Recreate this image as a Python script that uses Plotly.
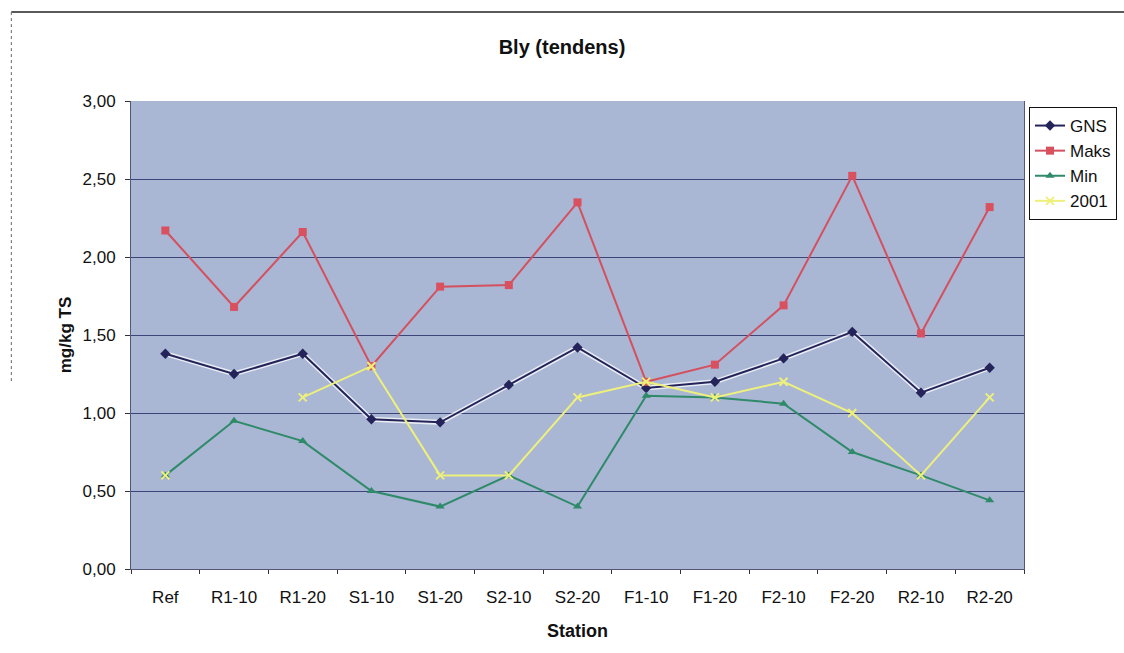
import plotly.graph_objects as go

stations = ["Ref", "R1-10", "R1-20", "S1-10", "S1-20", "S2-10", "S2-20",
            "F1-10", "F1-20", "F2-10", "F2-20", "R2-10", "R2-20"]
gns = [1.38, 1.25, 1.38, 0.96, 0.94, 1.18, 1.42, 1.16, 1.20, 1.35, 1.52, 1.13, 1.29]
maks = [2.17, 1.68, 2.16, 1.30, 1.81, 1.82, 2.35, 1.20, 1.31, 1.69, 2.52, 1.51, 2.32]
mini = [0.60, 0.95, 0.82, 0.50, 0.40, 0.60, 0.40, 1.11, 1.10, 1.06, 0.75, 0.60, 0.44]
y2001 = [0.60, None, 1.10, 1.30, 0.60, 0.60, 1.10, 1.20, 1.10, 1.20, 1.00, 0.60, 1.10]

font = "Liberation Sans, Arial, sans-serif"

fig = go.Figure()
# white halo under GNS line (as in the scanned original)
fig.add_trace(go.Scatter(x=stations, y=gns, mode="lines", showlegend=False,
                         hoverinfo="skip",
                         line=dict(color="rgba(255,255,255,0.75)", width=5)))
fig.add_trace(go.Scatter(x=stations, y=gns, name="GNS", mode="lines+markers",
                         line=dict(color="#24245a", width=2),
                         marker=dict(symbol="diamond", size=8, color="#24245a")))
fig.add_trace(go.Scatter(x=stations, y=maks, name="Maks", mode="lines+markers",
                         line=dict(color="#d4505e", width=2),
                         marker=dict(symbol="square", size=8, color="#d9505e")))
fig.add_trace(go.Scatter(x=stations, y=mini, name="Min", mode="lines+markers",
                         line=dict(color="#2e8a68", width=2),
                         marker=dict(symbol="triangle-up", size=8, color="#2e8a68")))
fig.add_trace(go.Scatter(x=stations, y=y2001, name="2001", mode="lines+markers",
                         connectgaps=False,
                         line=dict(color="#eef07c", width=2),
                         marker=dict(symbol="x-thin", size=8, color="#eef07c",
                                     line=dict(color="#eef07c", width=2))))

fig.update_layout(
    width=1124, height=653,
    margin=dict(l=131, r=100, t=101, b=84, autoexpand=False),
    paper_bgcolor="white",
    plot_bgcolor="#a9b6d4",
    font=dict(family=font, size=18, color="#111111"),
    title=dict(text="<b>Bly (tendens)</b>", x=0.5, xanchor="center",
               y=0.928, yanchor="middle", font=dict(size=20, family=font)),
    legend=dict(xref="container", yref="container", x=1029 / 1124, xanchor="left",
                y=1 - 107 / 653, yanchor="top",
                bordercolor="#111111", borderwidth=1, bgcolor="white",
                font=dict(size=17, family=font), itemwidth=30,
                tracegroupgap=0),
    showlegend=True,
    separators=", ",
)
fig.update_xaxes(
    type="category", range=[-0.5, 12.5], tickson="boundaries",
    ticks="outside", ticklen=4, tickcolor="#333333",
    ticklabelstandoff=13,
    showgrid=False, showline=True, linecolor="#555577", linewidth=1,
    title=dict(text="<b>Station</b>", font=dict(size=18), standoff=17),
    tickfont=dict(size=17),
)
fig.update_yaxes(
    range=[0, 3], dtick=0.5, tickformat=".2f",
    ticks="outside", ticklen=5, tickcolor="#333333",
    ticklabelstandoff=6,
    showgrid=True, gridcolor="#3d4479", gridwidth=1,
    showline=True, linecolor="#555577", mirror=True,
    zeroline=False,
    title=dict(text="<b>mg/kg TS</b>", font=dict(size=17), standoff=6),
    tickfont=dict(size=17),
)
# chart border (top and left)
fig.add_shape(type="line", xref="paper", yref="paper", x0=-0.134, x1=1.13, y0=1.19, y1=1.19,
              line=dict(color="#222222", width=1.5))
fig.add_shape(type="line", xref="paper", yref="paper", x0=-0.134, x1=-0.134, y0=1.19, y1=0.4,
              line=dict(color="#666666", width=1, dash="dot"))
fig.write_html("out.html")
